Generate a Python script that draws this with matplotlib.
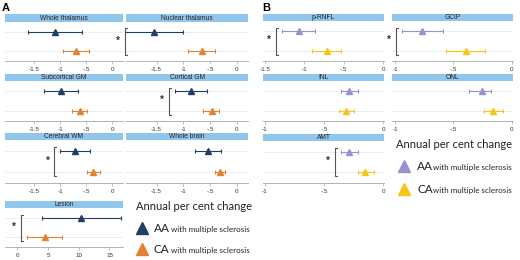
import matplotlib
matplotlib.use("Agg")
import matplotlib.pyplot as plt
from matplotlib.lines import Line2D

# ---------------- data ----------------
names_A = ["Whole thalamus", "Nuclear thalamus", "Subcortical GM", "Cortical GM",
           "Cerebral WM", "Whole brain", "Lesion"]
aa_est_A = [-1.11, -1.54, -0.98, -0.86, -0.71, -0.54, 10.4]
aa_lo_A = [-1.63, -2.08, -1.31, -1.16, -1.00, -0.78, 4.05]
aa_hi_A = [-0.58, -1.00, -0.65, -0.56, -0.42, -0.29, 16.8]
ca_est_A = [-0.69, -0.65, -0.63, -0.47, -0.37, -0.31, 4.5]
ca_lo_A = [-0.94, -0.92, -0.77, -0.64, -0.48, -0.40, 1.6]
ca_hi_A = [-0.44, -0.40, -0.48, -0.34, -0.23, -0.22, 7.3]
sig_A = [False, True, False, True, True, False, True]

names_B = ["p-RNFL", "GCIP", "INL", "ONL", "AMT"]
aa_est_B = [-1.07, -0.77, -0.29, -0.26, -0.29]
aa_lo_B = [-1.28, -0.94, -0.36, -0.37, -0.36]
aa_hi_B = [-0.86, -0.59, -0.21, -0.18, -0.21]
ca_est_B = [-0.71, -0.39, -0.31, -0.16, -0.15]
ca_lo_B = [-0.90, -0.56, -0.37, -0.24, -0.21]
ca_hi_B = [-0.54, -0.23, -0.25, -0.08, -0.08]
sig_B = [True, True, False, False, True]

ticks_brain = [-1.5, -1, -0.5, 0]
ticklabels_brain = ["-1.5", "-1", "-.5", "0"]
ticks_lesion = [0, 5, 10, 15]
ticklabels_lesion = ["0", "5", "10", "15"]
ticks_short = [-1, -0.5, 0]
ticklabels_short = ["-1", "-.5", "0"]

legend_title = "Annual per cent change"
group_labels = ["AA", "CA"]
group_suffix = "with multiple sclerosis"

# ---------------- style ----------------
W, H = 520, 260
fig = plt.figure(figsize=(5.2, 2.6), dpi=100)
STRIP = "#91c6ec"
GRID = "#e4ebf3"
AXC = "#a6a6a6"
COL_A = ["#1f3f66", "#e58231"]
COL_B = ["#9a8fd1", "#f5c518"]
SANS = ["Liberation Sans", "DejaVu Sans"]
LEG = ["Lato", "DejaVu Sans"]


def px_axes(x0, y0, x1, y1):
    return fig.add_axes([x0 / W, 1 - y1 / H, (x1 - x0) / W, (y1 - y0) / H])


def to_fig(xd, yd):
    return fig.transFigure.inverted().transform((xd, yd))


def panel(x0, x1, strip_top, strip_bot, axis_y, title, xlim, ticks, labels,
          aa, ca, sig, cols):
    sax = px_axes(x0, strip_top, x1, strip_bot)
    sax.set_facecolor(STRIP)
    sax.set_xticks([]); sax.set_yticks([])
    for s in sax.spines.values():
        s.set_visible(False)
    sax.text(0.5, 0.45, title, transform=sax.transAxes, ha="center", va="center",
             fontsize=4.8, family=SANS, color="#222222")

    ax = px_axes(x0, strip_bot, x1, axis_y)
    ax.patch.set_alpha(0)
    ax.set_xlim(*xlim)
    ax.set_ylim(-0.55, 1.55)
    ax.axhline(1, color=GRID, lw=0.6, zorder=0)
    ax.axhline(0, color=GRID, lw=0.6, zorder=0)
    for yv, (est, lo, hi), c in zip([1, 0], [aa, ca], cols):
        ax.errorbar([est], [yv], xerr=[[est - lo], [hi - est]], fmt="^", color=c,
                    ms=3.8, capsize=1.5, elinewidth=0.8, capthick=0.8, lw=0.8,
                    clip_on=False, zorder=3)
    for k in ["top", "left", "right"]:
        ax.spines[k].set_visible(False)
    ax.spines["bottom"].set_color(AXC)
    ax.spines["bottom"].set_linewidth(0.6)
    ax.set_yticks([])
    ax.set_xticks(ticks)
    ax.set_xticklabels(labels, family=SANS)
    ax.tick_params(axis="x", length=2, width=0.5, color=AXC, labelsize=4.5,
                   pad=2.5, labelcolor="#333333")

    if sig:
        xmin = min(aa[1], ca[1])
        xd, _ = ax.transData.transform((xmin, 0))
        xd = max(xd - 6, ax.transAxes.transform((0, 0))[0] - 1)
        _, ytop = ax.transData.transform((0, 1.2))
        _, ybot = ax.transData.transform((0, -0.22))
        pts = [to_fig(xd + 2, ytop), to_fig(xd, ytop), to_fig(xd, ybot), to_fig(xd + 2, ybot)]
        fig.add_artist(Line2D([p[0] for p in pts], [p[1] for p in pts],
                              color="#555555", lw=0.8, transform=fig.transFigure))
        fx, fy = to_fig(xd - 7, (ytop + ybot) / 2 + 1)
        fig.text(fx, fy, "*", ha="center", va="center", fontsize=7, weight="bold",
                 family=SANS, color="#333333")
    return ax


# ---------------- panel A ----------------
colsA = [(5, 123), (126, 248)]
rowsA = [(14, 22, 61), (74, 81, 121), (133, 140, 183), (201, 208, 247)]
for i, name in enumerate(names_A):
    r, c = divmod(i, 2)
    x0, x1 = colsA[c]
    st, sb, ay = rowsA[r]
    if name == "Lesion":
        xlim, t, tl = (-2.0, 17.2), ticks_lesion, ticklabels_lesion
    else:
        xlim, t, tl = (-2.07, 0.21), ticks_brain, ticklabels_brain
    panel(x0, x1, st, sb, ay, name, xlim, t, tl,
          (aa_est_A[i], aa_lo_A[i], aa_hi_A[i]),
          (ca_est_A[i], ca_lo_A[i], ca_hi_A[i]), sig_A[i], COL_A)

# ---------------- panel B ----------------
colsB = [(263, 384), (392, 513)]
rowsB = [(14, 21, 61), (74, 81, 121), (134, 141, 183)]
for i, name in enumerate(names_B):
    r, c = divmod(i, 2)
    x0, x1 = colsB[c]
    st, sb, ay = rowsB[r]
    if name == "p-RNFL":
        xlim, t, tl = (-1.525, 0.01), ticks_brain, ticklabels_brain
    elif c == 0:
        xlim, t, tl = (-1.017, 0.008), ticks_short, ticklabels_short
    else:
        xlim, t, tl = (-1.026, 0.009), ticks_short, ticklabels_short
    panel(x0, x1, st, sb, ay, name, xlim, t, tl,
          (aa_est_B[i], aa_lo_B[i], aa_hi_B[i]),
          (ca_est_B[i], ca_lo_B[i], ca_hi_B[i]), sig_B[i], COL_B)

# ---------------- panel letters ----------------
fig.text(2 / W, 1 - 8 / H, "A", fontsize=8, weight="bold", family=SANS, va="center")
fig.text(262 / W, 1 - 8 / H, "B", fontsize=8, weight="bold", family=SANS, va="center")


# ---------------- legends ----------------
def legend(tx, ty, mx, my_list, lx, sx, cols):
    fig.text(tx / W, 1 - ty / H, legend_title, fontsize=8, family=LEG,
             color="#222222", va="center", ha="left")
    for my, lab, c in zip(my_list, group_labels, cols):
        fig.add_artist(Line2D([mx / W], [1 - my / H], marker="^", ms=9, color=c,
                              lw=0, transform=fig.transFigure))
        fig.text(lx / W, 1 - (my + 4) / H, lab, fontsize=8.5, family=LEG,
                 color="#222222", va="baseline", ha="left")
        fig.text(sx / W, 1 - (my + 4) / H, group_suffix, fontsize=5.8,
                 family=LEG, color="#222222", va="baseline", ha="left")


legend(136, 207, 142, [228, 249], 154, 171, COL_A)
legend(396, 145, 404, [166, 189], 417, 433, COL_B)

fig.savefig("out.png", dpi=100)
